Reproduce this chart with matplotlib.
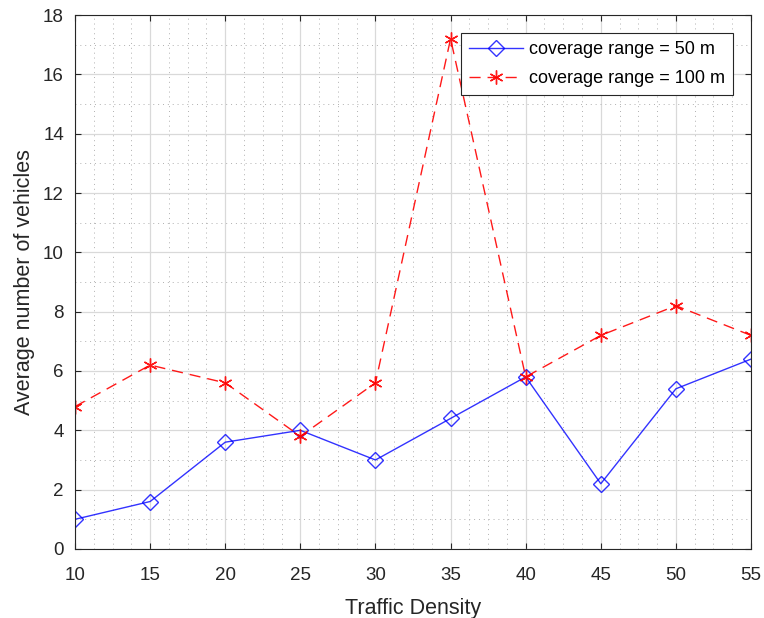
import numpy as np
import matplotlib
matplotlib.use('Agg')
import matplotlib.pyplot as plt
from matplotlib.ticker import MultipleLocator

# data
density = [10, 15, 20, 25, 30, 35, 40, 45, 50, 55]
range_50 = [1.0, 1.6, 3.6, 4.0, 3.0, 4.4, 5.8, 2.2, 5.4, 6.4]
range_100 = [4.8, 6.2, 5.6, 3.8, 5.6, 17.2, 5.8, 7.2, 8.2, 7.2]

plt.rcParams['font.family'] = ['Liberation Sans', 'DejaVu Sans']

fig = plt.figure(figsize=(7.64, 6.18), dpi=100)
ax = fig.add_axes([0.0982, 0.1117, 0.8848, 0.864])

ax.plot(density, range_50, '-', color='#0000ff', marker='D', markersize=8,
        markerfacecolor='none', markeredgewidth=1.0, lw=1.0, alpha=0.8,
        label='coverage range = 50 m')
ax.plot(density, range_100, '--', color='#ff0000', marker=(6, 2, 0), markersize=10,
        markeredgewidth=1.0, lw=1.0, dashes=(8, 5), alpha=0.9,
        label='coverage range = 100 m')

ax.set_xlim(10, 55)
ax.set_ylim(0, 18)
ax.xaxis.set_major_locator(MultipleLocator(5))
ax.xaxis.set_minor_locator(MultipleLocator(1.25))
ax.yaxis.set_major_locator(MultipleLocator(2))
ax.yaxis.set_minor_locator(MultipleLocator(1))

ax.grid(which='major', color='#d9d9d9', lw=0.9, ls='-')
ax.grid(which='minor', color='#b0b0b0', lw=0.7, ls=(0, (1, 4)))
ax.set_axisbelow(True)

ax.tick_params(which='both', direction='in', top=True, right=True,
               labelsize=13.5, colors='#262626', length=4)
ax.tick_params(which='minor', length=0)
ax.tick_params(axis='x', pad=13)
ax.tick_params(axis='y', pad=8)
for sp in ax.spines.values():
    sp.set_color('#262626')
    sp.set_linewidth(0.8)

ax.set_xlabel('Traffic Density', fontsize=15.5, color='#262626', labelpad=10)
ax.set_ylabel('Average number of vehicles', fontsize=15.5, color='#262626', labelpad=6)

leg = ax.legend(loc='upper right', bbox_to_anchor=(0.973, 0.966), borderaxespad=0,
                fontsize=13, fancybox=False, edgecolor='#262626', framealpha=1,
                handlelength=3.0, handletextpad=0.3, borderpad=0.45, labelspacing=0.65)
leg.get_frame().set_linewidth(0.8)

fig.savefig('out.png', dpi=100)
